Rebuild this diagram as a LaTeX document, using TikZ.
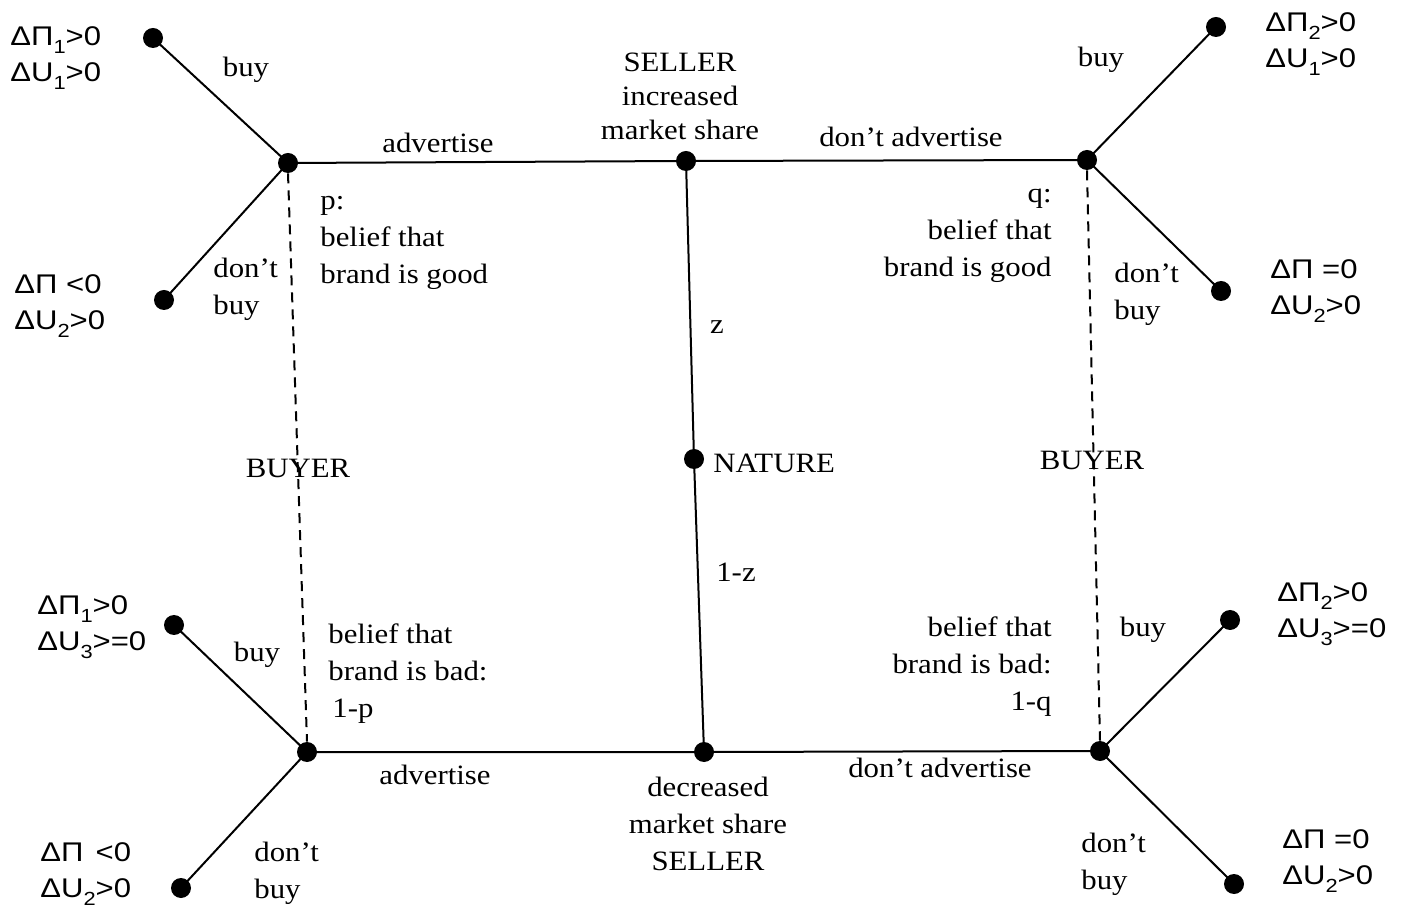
\documentclass[tikz,border=0pt]{standalone}
\usepackage{fontspec}
\setmainfont[FakeStretch=1.1]{Liberation Serif}
\newfontfamily\sansf[FakeStretch=1.15]{Liberation Sans}
\newcommand{\sbs}[1]{\raisebox{-0.28em}{\fontsize{9.5}{9.5}\selectfont #1}}
\begin{document}
\begin{tikzpicture}[x=0.5pt,y=-0.5pt,
  dot/.style={circle,fill=black,inner sep=0pt,minimum size=10pt},
  edge/.style={line width=1pt},
  info/.style={line width=1pt,dash pattern=on 5pt off 3.5pt},
  lbl/.style={font=\fontsize{14}{18.5}\selectfont,inner sep=0pt,align=left},
  pay/.style={font=\sansf\fontsize{13.5}{18}\selectfont,inner sep=0pt,align=left,anchor=west}]
\useasboundingbox (0,0) rectangle (1407,913);
% decision nodes
\node[dot] (tl) at (288,163) {};
\node[dot] (tm) at (686,161) {};
\node[dot] (tr) at (1087,160) {};
\node[dot] (nat) at (694,459) {};
\node[dot] (bl) at (307,752) {};
\node[dot] (bm) at (704,752) {};
\node[dot] (br) at (1100,751) {};
% leaves
\node[dot] (tlb) at (153,38) {};
\node[dot] (tld) at (164,300) {};
\node[dot] (trb) at (1216,27) {};
\node[dot] (trd) at (1221,291) {};
\node[dot] (blb) at (174,625) {};
\node[dot] (bld) at (181,888) {};
\node[dot] (brb) at (1230,620) {};
\node[dot] (brd) at (1234,884) {};
% edges
\draw[edge] (tl.center) -- (tm.center) -- (tr.center);
\draw[edge] (bl.center) -- (bm.center) -- (br.center);
\draw[edge] (tm.center) -- (nat.center) -- (bm.center);
\draw[edge] (tl.center) -- (tlb.center);
\draw[edge] (tl.center) -- (tld.center);
\draw[edge] (tr.center) -- (trb.center);
\draw[edge] (tr.center) -- (trd.center);
\draw[edge] (bl.center) -- (blb.center);
\draw[edge] (bl.center) -- (bld.center);
\draw[edge] (br.center) -- (brb.center);
\draw[edge] (br.center) -- (brd.center);
% information sets
\draw[info] (tl.south) -- (bl.north);
\draw[info] (tr.south) -- (br.north);
% payoffs
\node[pay] (p1) at (10,58) {ΔΠ\sbs{1}>0\\ΔU\sbs{1}>0};
\node[pay] (p2) at (14,306) {ΔΠ <0\\ΔU\sbs{2}>0};
\node[pay] (p3) at (1265,44) {ΔΠ\sbs{2}>0\\ΔU\sbs{1}>0};
\node[pay] (p4) at (1270,291) {ΔΠ =0\\ΔU\sbs{2}>0};
\node[pay] (p5) at (37,627) {ΔΠ\sbs{1}>0\\ΔU\sbs{3}>=0};
\node[pay] (p6) at (40,874) {ΔΠ\hspace{0.45em}<0\\ΔU\sbs{2}>0};
\node[pay] (p7) at (1277,614) {ΔΠ\sbs{2}>0\\ΔU\sbs{3}>=0};
\node[pay] (p8) at (1282,861) {ΔΠ =0\\ΔU\sbs{2}>0};
% labels
\node[lbl] (l1) at (246,70) {buy};
\node[lbl] (l2) at (438,143) {advertise};
\node[lbl,align=center,font=\fontsize{14}{17}\selectfont] (l3) at (680,96) {SELLER\\increased\\market share};
\node[lbl] (l4) at (911,137) {don’t advertise};
\node[lbl] (l5) at (1101,60) {buy};
\node[lbl,anchor=west] (l6) at (320,243) {p:\\belief that\\brand is good};
\node[lbl,anchor=west] (l7) at (213,289) {don’t\\buy};
\node[lbl,anchor=east,align=right] (l8) at (1052,236) {q:\\belief that\\brand is good};
\node[lbl,anchor=west] (l9) at (1114,294) {don’t\\buy};
\node[lbl] (l10) at (717,327) {z};
\node[lbl,anchor=west] (l11) at (713,463) {NATURE};
\node[lbl] (l12) at (298,468) {BUYER};
\node[lbl] (l13) at (1092,460) {BUYER};
\node[lbl] (l14) at (736,572) {1-z};
\node[lbl] (l15) at (257,655) {buy};
\node[lbl,anchor=west] (l16) at (328,674) {belief that\\brand is bad:\\\hspace{2pt}1-p};
\node[lbl,anchor=east,align=right] (l17) at (1052,667) {belief that\\brand is bad:\\1-q};
\node[lbl] (l18) at (1143,630) {buy};
\node[lbl] (l19) at (435,775) {advertise};
\node[lbl] (l20) at (940,768) {don’t advertise};
\node[lbl,align=center] (l21) at (708,824) {decreased\\market share\\SELLER};
\node[lbl,anchor=west] (l22) at (1081,864) {don’t\\buy};
\node[lbl,anchor=west] (l23) at (254,873) {don’t\\buy};
\end{tikzpicture}
\end{document}
